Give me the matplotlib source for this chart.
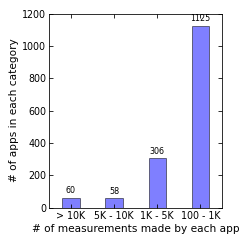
import matplotlib
matplotlib.use("Agg")
import matplotlib.pyplot as plt

categories = ["> 10K", "5K - 10K", "1K - 5K", "100 - 1K"]
counts = [60, 58, 306, 1125]

fig = plt.figure(figsize=(3.375, 3.375), dpi=72)
ax = fig.add_axes([0.203, 0.146, 0.71, 0.798])

pos = list(range(len(categories)))
bars = ax.bar(pos, counts, width=0.4, color="blue", alpha=0.5,
              edgecolor="black", linewidth=1)
for b, v in zip(bars, counts):
    ax.text(b.get_x() + b.get_width() / 2, v + 15, str(v),
            ha="center", va="bottom", fontsize=8)

ax.set_xlim(-0.5, 3.5)
ax.set_ylim(0, 1200)
ax.set_xticks(pos)
ax.set_xticklabels(categories)
ax.set_yticks([0, 200, 400, 600, 800, 1000, 1200])
ax.tick_params(direction="in", top=True, right=True, labelsize=9.5, length=4, pad=3)
ax.set_xlabel("# of measurements made by each app", fontsize=10.5, labelpad=3)
ax.set_ylabel("# of apps in each category", fontsize=10.5, labelpad=3)

fig.savefig("out.png", dpi=72)
